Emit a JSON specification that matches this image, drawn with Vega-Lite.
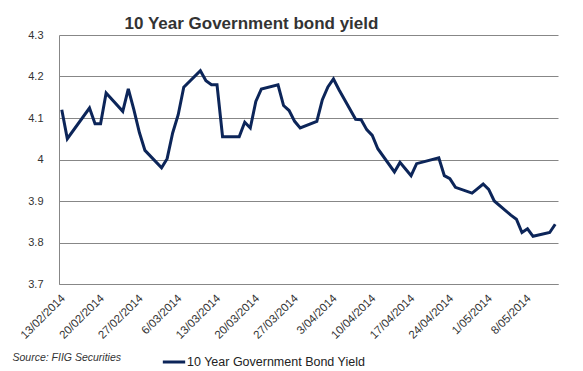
{
  "$schema": "https://vega.github.io/schema/vega-lite/v6.json",
  "width": 499,
  "height": 249,
  "autosize": {"type": "none"},
  "padding": {"left": 59, "top": 35, "right": 25, "bottom": 87},
  "background": "white",
  "config": {
    "view": {"stroke": null},
    "font": "Liberation Sans"
  },
  "title": {
    "text": "10 Year Government bond yield",
    "font": "Liberation Sans",
    "fontSize": 17,
    "fontWeight": "bold",
    "color": "#333333",
    "anchor": "middle",
    "dx": -57,
    "baseline": "alphabetic",
    "offset": 8,
    "dy": 25
  },
  "data": {
    "values": [
      {"date": "2014-02-13", "yield": 4.12},
      {"date": "2014-02-14", "yield": 4.05},
      {"date": "2014-02-18", "yield": 4.124},
      {"date": "2014-02-19", "yield": 4.086},
      {"date": "2014-02-20", "yield": 4.086},
      {"date": "2014-02-21", "yield": 4.16},
      {"date": "2014-02-24", "yield": 4.116},
      {"date": "2014-02-25", "yield": 4.17},
      {"date": "2014-02-26", "yield": 4.12},
      {"date": "2014-02-27", "yield": 4.065},
      {"date": "2014-02-28", "yield": 4.022},
      {"date": "2014-03-03", "yield": 3.98},
      {"date": "2014-03-04", "yield": 4.002},
      {"date": "2014-03-05", "yield": 4.064},
      {"date": "2014-03-06", "yield": 4.108},
      {"date": "2014-03-07", "yield": 4.174},
      {"date": "2014-03-10", "yield": 4.214},
      {"date": "2014-03-11", "yield": 4.19},
      {"date": "2014-03-12", "yield": 4.18},
      {"date": "2014-03-13", "yield": 4.18},
      {"date": "2014-03-14", "yield": 4.055},
      {"date": "2014-03-17", "yield": 4.055},
      {"date": "2014-03-18", "yield": 4.09},
      {"date": "2014-03-19", "yield": 4.076},
      {"date": "2014-03-20", "yield": 4.14},
      {"date": "2014-03-21", "yield": 4.17},
      {"date": "2014-03-24", "yield": 4.18},
      {"date": "2014-03-25", "yield": 4.13},
      {"date": "2014-03-26", "yield": 4.118},
      {"date": "2014-03-27", "yield": 4.092},
      {"date": "2014-03-28", "yield": 4.076},
      {"date": "2014-03-31", "yield": 4.092},
      {"date": "2014-04-01", "yield": 4.144},
      {"date": "2014-04-02", "yield": 4.175},
      {"date": "2014-04-03", "yield": 4.194},
      {"date": "2014-04-04", "yield": 4.168},
      {"date": "2014-04-07", "yield": 4.097},
      {"date": "2014-04-08", "yield": 4.096},
      {"date": "2014-04-09", "yield": 4.072},
      {"date": "2014-04-10", "yield": 4.058},
      {"date": "2014-04-11", "yield": 4.026},
      {"date": "2014-04-14", "yield": 3.97},
      {"date": "2014-04-15", "yield": 3.993},
      {"date": "2014-04-16", "yield": 3.977},
      {"date": "2014-04-17", "yield": 3.961},
      {"date": "2014-04-18", "yield": 3.99},
      {"date": "2014-04-22", "yield": 4.004},
      {"date": "2014-04-23", "yield": 3.961},
      {"date": "2014-04-24", "yield": 3.954},
      {"date": "2014-04-25", "yield": 3.933},
      {"date": "2014-04-28", "yield": 3.919},
      {"date": "2014-04-29", "yield": 3.93},
      {"date": "2014-04-30", "yield": 3.941},
      {"date": "2014-05-01", "yield": 3.928},
      {"date": "2014-05-02", "yield": 3.9},
      {"date": "2014-05-05", "yield": 3.866},
      {"date": "2014-05-06", "yield": 3.856},
      {"date": "2014-05-07", "yield": 3.824},
      {"date": "2014-05-08", "yield": 3.833},
      {"date": "2014-05-09", "yield": 3.815},
      {"date": "2014-05-12", "yield": 3.824},
      {"date": "2014-05-13", "yield": 3.844}
    ]
  },
  "mark": {"type": "line", "strokeWidth": 3, "strokeJoin": "miter"},
  "encoding": {
    "x": {
      "field": "date",
      "type": "temporal",
      "timeUnit": "utcyearmonthdate",
      "bandPosition": 0.5,
      "scale": {
        "type": "utc",
        "domain": [
          {"year": 2014, "month": 2, "date": 13, "utc": true},
          {"year": 2014, "month": 5, "date": 14, "utc": true}
        ]
      },
      "axis": {
        "title": "Source: FIIG Securities",
        "titleFont": "Liberation Sans",
        "titleFontSize": 10.5,
        "titleFontStyle": "italic",
        "titleFontWeight": "normal",
        "titleColor": "#333333",
        "titleAlign": "left",
        "titleBaseline": "alphabetic",
        "titleAnchor": "start",
        "titleX": -47,
        "titleY": 76,
        "values": [
          {"year": 2014, "month": 2, "date": 13, "utc": true},
          {"year": 2014, "month": 2, "date": 20, "utc": true},
          {"year": 2014, "month": 2, "date": 27, "utc": true},
          {"year": 2014, "month": 3, "date": 6, "utc": true},
          {"year": 2014, "month": 3, "date": 13, "utc": true},
          {"year": 2014, "month": 3, "date": 20, "utc": true},
          {"year": 2014, "month": 3, "date": 27, "utc": true},
          {"year": 2014, "month": 4, "date": 3, "utc": true},
          {"year": 2014, "month": 4, "date": 10, "utc": true},
          {"year": 2014, "month": 4, "date": 17, "utc": true},
          {"year": 2014, "month": 4, "date": 24, "utc": true},
          {"year": 2014, "month": 5, "date": 1, "utc": true},
          {"year": 2014, "month": 5, "date": 8, "utc": true}
        ],
        "format": "%-d/%m/%Y",
        "labelAngle": -45,
        "labelFont": "Liberation Sans",
        "labelFontSize": 11.5,
        "labelColor": "#333333",
        "labelPadding": 8,
        "labelDx": -2,
        "labelDy": 3,
        "labelOverlap": false,
        "labelFlush": false,
        "ticks": false,
        "grid": false,
        "domainColor": "#878787",
        "domainWidth": 1
      }
    },
    "y": {
      "field": "yield",
      "type": "quantitative",
      "scale": {"domain": [3.7, 4.3], "nice": false, "zero": false},
      "axis": {
        "title": null,
        "values": [3.7, 3.8, 3.9, 4.0, 4.1, 4.2, 4.3],
        "format": "~g",
        "labelFont": "Liberation Sans",
        "labelFontSize": 11,
        "labelColor": "#333333",
        "labelPadding": 16,
        "ticks": false,
        "grid": true,
        "gridColor": "#878787",
        "gridWidth": 1,
        "gridOpacity": 1,
        "domainColor": "#878787",
        "domainWidth": 1
      }
    },
    "color": {
      "datum": "10 Year Government Bond Yield",
      "type": "nominal",
      "scale": {"range": ["#0c2559"]},
      "legend": {
        "title": null,
        "orient": "none",
        "legendX": 102,
        "legendY": 314,
        "symbolType": "stroke",
        "symbolStrokeWidth": 3,
        "symbolSize": 500,
        "labelOffset": 0,
        "labelLimit": 400,
        "labelFont": "Liberation Sans",
        "labelFontSize": 12.5,
        "labelColor": "#222222"
      }
    }
  }
}
